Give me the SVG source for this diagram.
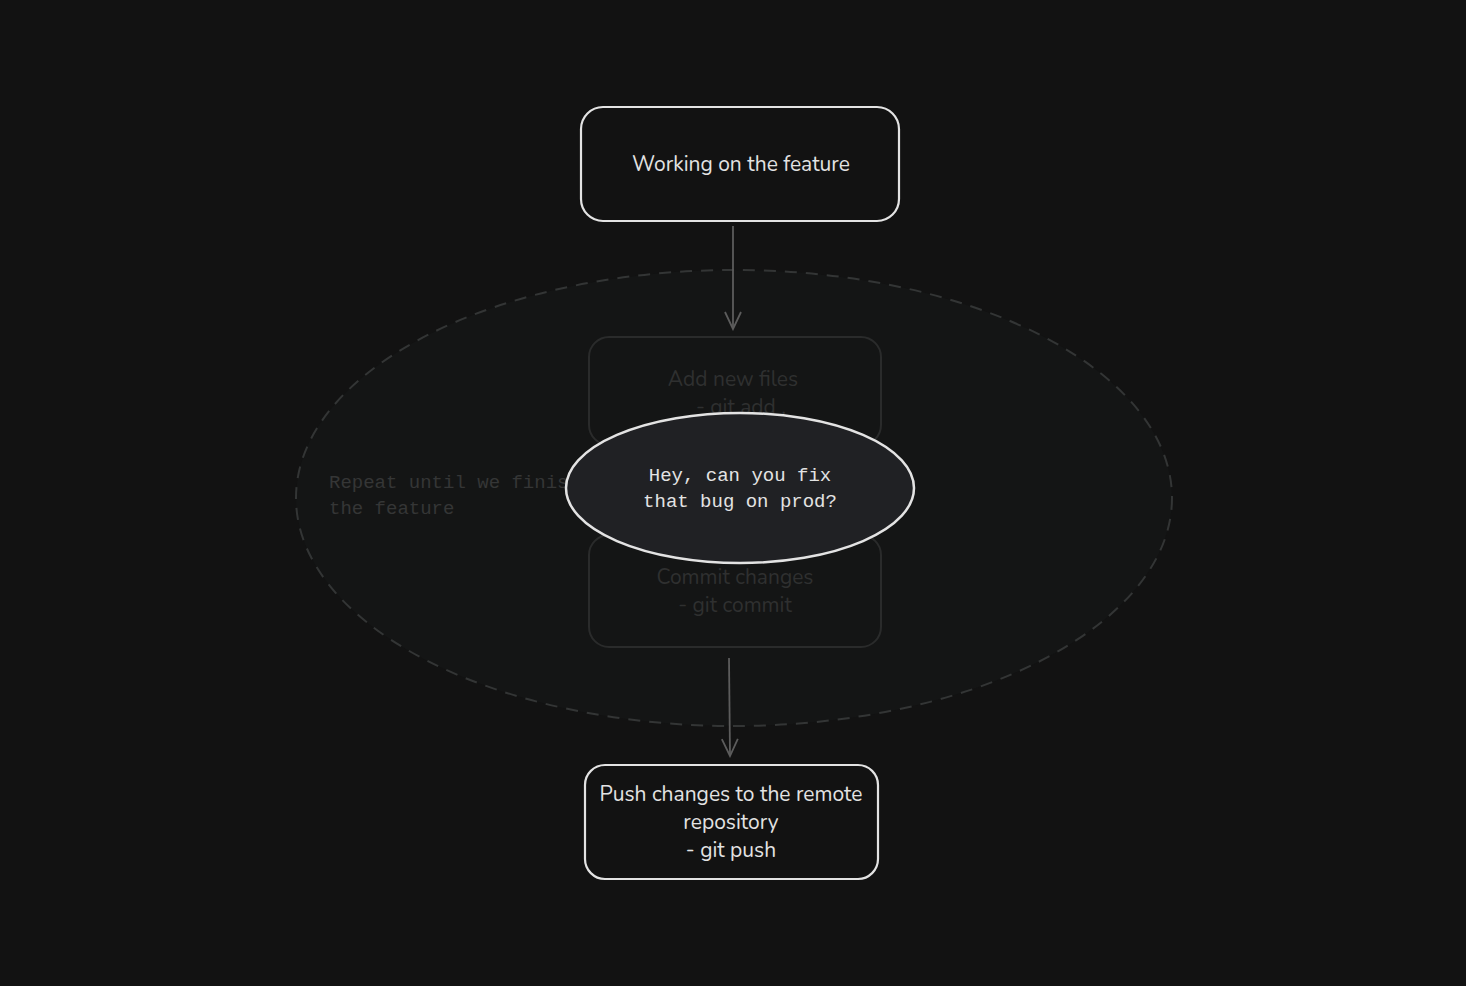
<svg xmlns="http://www.w3.org/2000/svg" width="1466" height="986" viewBox="0 0 1466 986">
<defs>
<style>
.box{fill:#121212;stroke:#e3e3e3;stroke-width:2.2}
.faded{fill:none;stroke:#2a2b2b;stroke-width:2}
.t{font-family:"Nunito","Noto Sans","Liberation Sans",sans-serif;font-size:21px;fill:#e3e3e3;text-anchor:middle}
.tf{font-family:"Nunito","Noto Sans","Liberation Sans",sans-serif;font-size:21px;fill:#2f3030;text-anchor:middle}
.mono{font-family:"Liberation Mono","DejaVu Sans Mono",monospace;font-size:19px}
.conn{stroke:#5c5c5c;stroke-width:1.8;fill:none}
</style>
<marker id="arr" viewBox="0 0 20 20" refX="18" refY="10" markerWidth="20" markerHeight="20" markerUnits="userSpaceOnUse" orient="auto">
<path d="M1 2 L18 10 L1 18" fill="none" stroke="#5c5c5c" stroke-width="1.8"/>
</marker>
</defs>
<rect width="1466" height="986" fill="#121212"/>
<g id="loop">
<ellipse cx="734" cy="498" rx="438" ry="228" fill="#141515" stroke="#333535" stroke-width="2" stroke-dasharray="12 9"/>
</g>
<g id="repeat-label">
<text class="mono" fill="#353636"><tspan x="329" y="488">Repeat until we finish</tspan><tspan x="329" y="514">the feature</tspan></text>
</g>
<g id="connectors">
<path class="conn" d="M733 226 L733 329" marker-end="url(#arr)"/>
<path class="conn" d="M729 658 L730 756" marker-end="url(#arr)"/>
</g>
<g id="working">
<rect class="box" x="581" y="107" width="318" height="114" rx="22"/>
<text class="t" x="741" y="171">Working on the feature</text>
</g>
<g id="add">
<rect class="faded" x="589" y="337" width="292" height="108" rx="20"/>
<text class="tf" x="733" y="386">Add new files</text>
<text class="tf" x="741" y="414">- git add .</text>
</g>
<g id="commit">
<rect class="faded" x="589" y="535" width="292" height="112" rx="20"/>
<text class="tf" x="735" y="584">Commit changes</text>
<text class="tf" x="735" y="612">- git commit</text>
</g>
<g id="interrupt">
<ellipse cx="740" cy="488" rx="174" ry="75" fill="#202124" stroke="#e3e3e3" stroke-width="2.5"/>
<text class="mono" fill="#e3e3e3" text-anchor="middle"><tspan x="740" y="481">Hey, can you fix</tspan><tspan x="740" y="507">that bug on prod?</tspan></text>
</g>
<g id="push">
<rect class="box" x="585" y="765" width="293" height="114" rx="20"/>
<text class="t" x="731" y="801">Push changes to the remote</text>
<text class="t" x="731" y="829">repository</text>
<text class="t" x="731" y="857">- git push</text>
</g>
</svg>
